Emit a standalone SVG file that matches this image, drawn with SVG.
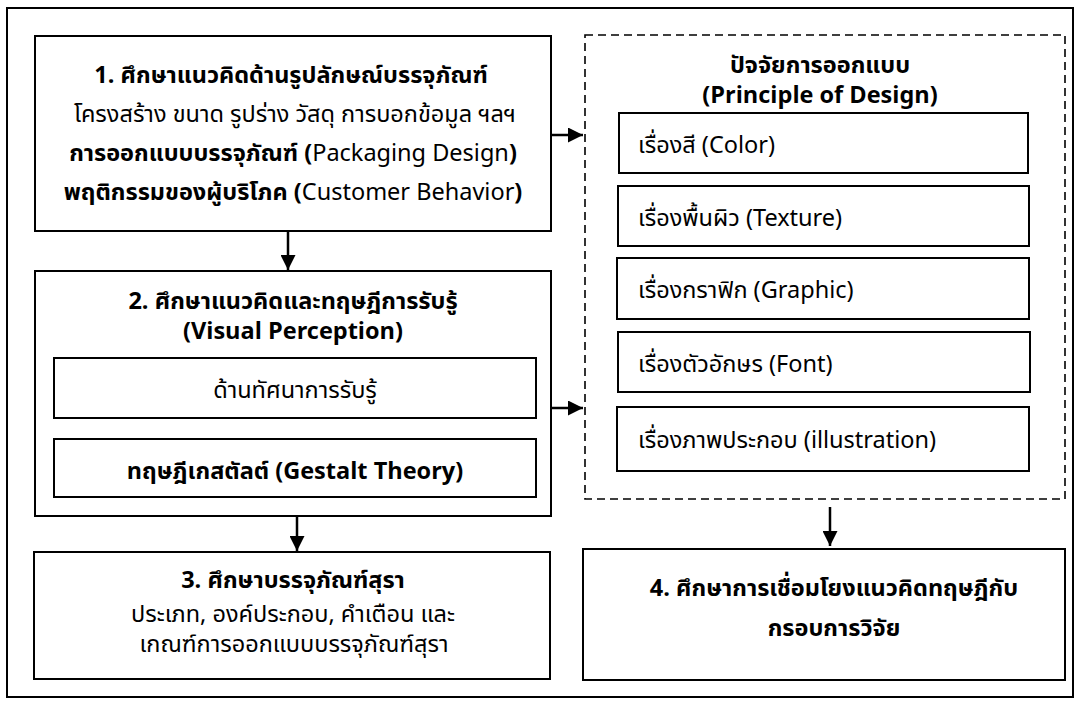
<svg xmlns="http://www.w3.org/2000/svg" width="1079" height="704" viewBox="0 0 1079 704">
<style>
text{font-family:"Noto Sans Thai","Noto Sans","DejaVu Sans",sans-serif;font-size:23.5px;fill:#000}
.b{font-weight:bold}
.c{text-anchor:middle}
.box{fill:#fff;stroke:#000;stroke-width:2}
.dash{fill:none;stroke:#000;stroke-width:1.6;stroke-dasharray:8,5}
.con{stroke:#000;stroke-width:2.5;fill:none;marker-end:url(#ah)}
</style>
<defs>
<marker id="ah" markerWidth="15" markerHeight="15" refX="10" refY="5" orient="auto" markerUnits="userSpaceOnUse" viewBox="0 0 10 10">
<path d="M0,0 L10,5 L0,10 z" fill="#000"/>
</marker>
</defs>
<rect x="0" y="0" width="1079" height="704" fill="#fff"/>
<rect x="7" y="8" width="1066" height="689" fill="none" stroke="#000" stroke-width="2"/>
<g id="connectors">
<line class="con" x1="288" y1="232" x2="288" y2="270"/>
<line class="con" x1="297" y1="517" x2="297" y2="551"/>
<line class="con" x1="551" y1="135" x2="583" y2="135"/>
<line class="con" x1="551" y1="408" x2="583" y2="408"/>
<line class="con" x1="830" y1="507" x2="830" y2="546"/>
</g>
<g id="n1">
<rect class="box" x="35" y="36" width="516" height="195"/>
<text class="c b" x="291" y="83">1. ศึกษาแนวคิดด้านรูปลักษณ์บรรจุภัณฑ์</text>
<text class="c" x="295" y="122">โครงสร้าง ขนาด รูปร่าง วัสดุ การบอกข้อมูล ฯลฯ</text>
<text class="c" x="293" y="161"><tspan class="b">การออกแบบบรรจุภัณฑ์ (</tspan>Packaging Design<tspan class="b">)</tspan></text>
<text class="c" x="293" y="200"><tspan class="b">พฤติกรรมของผู้บริโภค (</tspan>Customer Behavior<tspan class="b">)</tspan></text>
</g>
<g id="n2">
<rect class="box" x="35" y="271" width="516" height="245"/>
<text class="c b" x="293" y="309">2. ศึกษาแนวคิดและทฤษฎีการรับรู้</text>
<text class="c b" x="293" y="339">(Visual Perception)</text>
<g id="n2a">
<rect class="box" x="54" y="358" width="482" height="60"/>
<text class="c" x="295" y="398">ด้านทัศนาการรับรู้</text>
</g>
<g id="n2b">
<rect class="box" x="54" y="439" width="482" height="58"/>
<text class="c b" x="295" y="479">ทฤษฎีเกสตัลต์ (Gestalt Theory)</text>
</g>
</g>
<g id="n3">
<rect class="box" x="34" y="552" width="516" height="127"/>
<text class="c b" x="293" y="588">3. ศึกษาบรรจุภัณฑ์สุรา</text>
<text class="c" x="293" y="622">ประเภท, องค์ประกอบ, คำเตือน และ</text>
<text class="c" x="294" y="652">เกณฑ์การออกแบบบรรจุภัณฑ์สุรา</text>
</g>
<g id="nd">
<rect class="dash" x="585" y="35" width="480" height="464"/>
<text class="c b" x="820" y="73">ปัจจัยการออกแบบ</text>
<text class="c b" x="820" y="103">(Principle of Design)</text>
<g id="d1"><rect class="box" x="619" y="113" width="409" height="60"/><text x="638" y="153">เรื่องสี (Color)</text></g>
<g id="d2"><rect class="box" x="618" y="186" width="411" height="60"/><text x="638" y="226">เรื่องพื้นผิว (Texture)</text></g>
<g id="d3"><rect class="box" x="617" y="258" width="412" height="61"/><text x="638" y="298">เรื่องกราฟิก (Graphic)</text></g>
<g id="d4"><rect class="box" x="618" y="332" width="412" height="60"/><text x="638" y="372">เรื่องตัวอักษร (Font)</text></g>
<g id="d5"><rect class="box" x="617" y="407" width="412" height="64"/><text x="638" y="448">เรื่องภาพประกอบ (illustration)</text></g>
</g>
<g id="n4">
<rect class="box" x="583" y="549" width="482" height="131"/>
<text class="c b" x="834" y="596">4. ศึกษาการเชื่อมโยงแนวคิดทฤษฎีกับ</text>
<text class="c b" x="834" y="636">กรอบการวิจัย</text>
</g>
</svg>
